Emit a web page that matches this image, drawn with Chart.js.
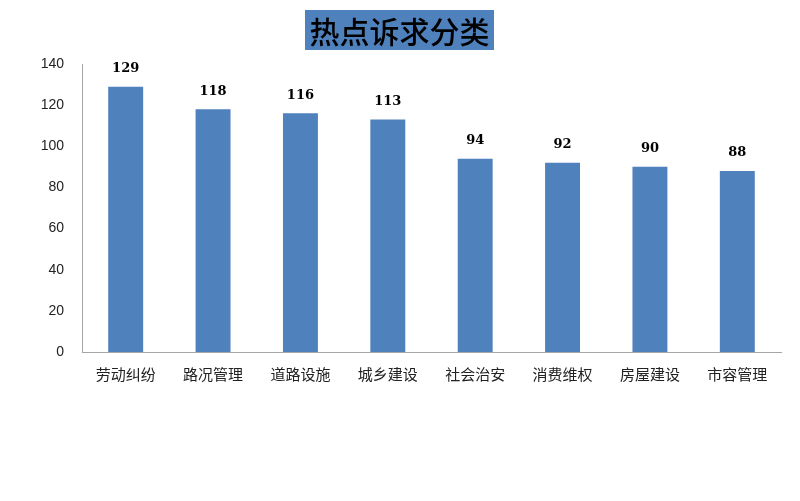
<!DOCTYPE html>
<html>
<head>
<meta charset="utf-8">
<script src="https://cdn.jsdelivr.net/npm/chart.js@4"></script>
<style>
  html, body { margin: 0; padding: 0; background: #fff; }
  #wrap { position: relative; width: 800px; height: 501px; }
  #titre {
    position: absolute; left: 305px; top: 10px; width: 189px; height: 40px;
    background: #4f81bd; color: #000; text-align: center;
    font: 500 30px "Noto Sans CJK SC", sans-serif; line-height: 40px;
  }
</style>
</head>
<body>
<div id="wrap">
  <canvas id="chart" width="800" height="501"></canvas>
  <div id="titre">热点诉求分类</div>
</div>
<script>
// données
const categories = ['劳动纠纷', '路况管理', '道路设施', '城乡建设', '社会治安', '消费维权', '房屋建设', '市容管理'];
const valeurs = [129, 118, 116, 113, 94, 92, 90, 88];
const yTicks = [0, 20, 40, 60, 80, 100, 120, 140];

// étiquettes de valeur au-dessus des barres
const etiquettes = {
    id: 'etiquettes',
    afterDatasetsDraw(chart) {
        const ctx = chart.ctx;
        const meta = chart.getDatasetMeta(0);
        ctx.save();
        ctx.font = 'bold 13px "DejaVu Serif", serif';
        ctx.fillStyle = '#000';
        ctx.textAlign = 'center';
        ctx.textBaseline = 'middle';
        meta.data.forEach((bar, i) => {
            ctx.fillText(valeurs[i], bar.x, bar.y - 18);
        });
        ctx.restore();
    }
};

const ctx = document.getElementById('chart').getContext('2d');
new Chart(ctx, {
    type: 'bar',
    data: {
        labels: categories,
        datasets: [{
            data: valeurs,
            backgroundColor: '#4f81bd',
            borderWidth: 0,
            barPercentage: 0.4,
            categoryPercentage: 1
        }]
    },
    options: {
        responsive: false,
        animation: false,
        layout: { padding: { left: 0, right: 19, top: 64, bottom: 0 } },
        plugins: {
            legend: { display: false },
            tooltip: { enabled: false }
        },
        scales: {
            y: {
                min: 0,
                max: 140,
                afterFit: s => { s.width = 82; },
                afterBuildTicks: s => { s.ticks = yTicks.map(v => ({ value: v })); },
                grid: { display: false },
                border: { display: true, color: '#a6a6a6', width: 1 },
                ticks: {
                    padding: 10,
                    color: '#222',
                    font: { family: 'Liberation Sans, sans-serif', size: 14 }
                }
            },
            x: {
                afterFit: s => { s.height = 149; },
                grid: { display: false },
                border: { display: true, color: '#a6a6a6', width: 1 },
                ticks: {
                    padding: 5,
                    color: '#222',
                    maxRotation: 0,
                    font: { family: '"Noto Sans CJK SC", sans-serif', size: 15 }
                }
            }
        }
    },
    plugins: [etiquettes]
});
</script>
</body>
</html>
